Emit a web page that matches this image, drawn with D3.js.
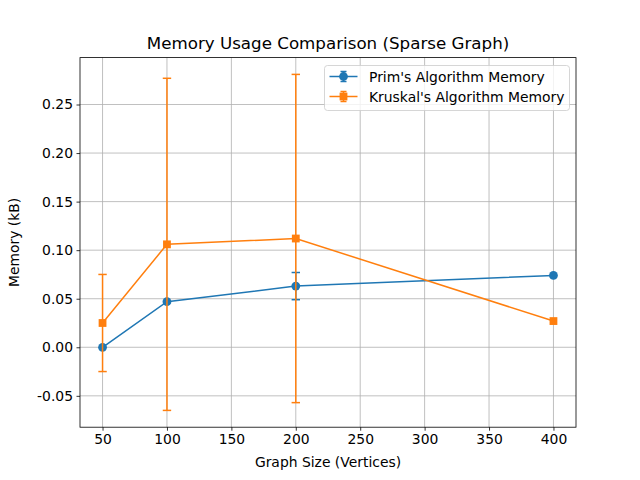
<!DOCTYPE html>
<html>
<head>
<meta charset="utf-8">
<script src="https://cdn.jsdelivr.net/npm/d3@7"></script>
<style>
  body { margin: 0; background: #fff; }
  text { font-family: "DejaVu Sans", sans-serif; fill: #000; }
</style>
</head>
<body>
<div id="vis"></div>
<script>
// data
var sizes = [50, 100, 200, 400];
var primMem = [0.000, 0.047, 0.063, 0.074];
var primErr = [0.000, 0.000, 0.014, 0.000];
var kruskalMem = [0.025, 0.106, 0.112, 0.027];
var kruskalErr = [0.050, 0.171, 0.169, 0.000];
var xTicks = [50, 100, 150, 200, 250, 300, 350, 400];
var yTicks = [-0.05, 0, 0.05, 0.10, 0.15, 0.20, 0.25];

var series = [
  {name: "Prim's Algorithm Memory", y: primMem, err: primErr, color: "#1f77b4", marker: "circle"},
  {name: "Kruskal's Algorithm Memory", y: kruskalMem, err: kruskalErr, color: "#ff7f0e", marker: "square"}
];

var W = 640, H = 480;
var margin = {top: 57.6, right: 64, bottom: 52.8, left: 80};
var width = W - margin.left - margin.right;
var height = H - margin.top - margin.bottom;

var svg = d3.select("#vis").append("svg")
  .attr("width", W).attr("height", H);

var g = svg.append("g")
  .attr("transform", "translate(" + margin.left + "," + margin.top + ")");

/* domain with matplotlib-like 5% padding */
var xPad = (400 - 50) * 0.05;
var x = d3.scaleLinear().domain([50 - xPad, 400 + xPad]).range([0, width]);

var yMin = d3.min(series, function(s) { return d3.min(s.y, function(v, i) { return v - s.err[i]; }); });
var yMax = d3.max(series, function(s) { return d3.max(s.y, function(v, i) { return v + s.err[i]; }); });
var yPad = (yMax - yMin) * 0.05;
var y = d3.scaleLinear().domain([yMin - yPad, yMax + yPad]).range([height, 0]);

/* grid */
g.append("g").selectAll("line").data(xTicks).enter().append("line")
  .attr("x1", function(d) { return x(d); }).attr("x2", function(d) { return x(d); })
  .attr("y1", 0).attr("y2", height)
  .attr("stroke", "#b0b0b0").attr("stroke-width", 0.8);
g.append("g").selectAll("line").data(yTicks).enter().append("line")
  .attr("y1", function(d) { return y(d); }).attr("y2", function(d) { return y(d); })
  .attr("x1", 0).attr("x2", width)
  .attr("stroke", "#b0b0b0").attr("stroke-width", 0.8);

/* axes */
var xAxis = d3.axisBottom(x).tickValues(xTicks).tickSize(3.5).tickPadding(3.5);
var yAxis = d3.axisLeft(y).tickValues(yTicks).tickSize(3.5).tickPadding(3.5)
  .tickFormat(function(d) { return d.toFixed(2); });

var gx = g.append("g").attr("transform", "translate(0," + height + ")").call(xAxis);
var gy = g.append("g").call(yAxis);
[gx, gy].forEach(function(a) {
  a.select(".domain").remove();
  a.selectAll("line").attr("stroke", "#000").attr("stroke-width", 0.8);
  a.selectAll("text").style("font-size", "13.9px").style("font-family", "DejaVu Sans");
});

/* series */
series.forEach(function(s) {
  var pts = sizes.map(function(v, i) { return {x: v, y: s.y[i], e: s.err[i]}; });
  var sg = g.append("g");

  var line = d3.line().x(function(d) { return x(d.x); }).y(function(d) { return y(d.y); });
  sg.append("path").datum(pts).attr("d", line)
    .attr("fill", "none").attr("stroke", s.color).attr("stroke-width", 1.5);

  var eb = sg.selectAll(".err").data(pts.filter(function(d) { return d.e > 0; })).enter().append("g");
  eb.append("line")
    .attr("x1", function(d) { return x(d.x); }).attr("x2", function(d) { return x(d.x); })
    .attr("y1", function(d) { return y(d.y - d.e); }).attr("y2", function(d) { return y(d.y + d.e); })
    .attr("stroke", s.color).attr("stroke-width", 1.5);
  [-1, 1].forEach(function(sign) {
    eb.append("line")
      .attr("x1", function(d) { return x(d.x) - 4.2; }).attr("x2", function(d) { return x(d.x) + 4.2; })
      .attr("y1", function(d) { return y(d.y + sign * d.e); }).attr("y2", function(d) { return y(d.y + sign * d.e); })
      .attr("stroke", s.color).attr("stroke-width", 1.5);
  });

  if (s.marker === "circle") {
    sg.selectAll("circle").data(pts).enter().append("circle")
      .attr("cx", function(d) { return x(d.x); }).attr("cy", function(d) { return y(d.y); })
      .attr("r", 4.4).attr("fill", s.color);
  } else {
    sg.selectAll("rect").data(pts).enter().append("rect")
      .attr("x", function(d) { return x(d.x) - 3.9; }).attr("y", function(d) { return y(d.y) - 3.9; })
      .attr("width", 7.8).attr("height", 7.8).attr("fill", s.color);
  }
});

/* frame */
g.append("rect").attr("width", width).attr("height", height)
  .attr("fill", "none").attr("stroke", "#000").attr("stroke-width", 0.8);

/* title and labels */
svg.append("text").attr("x", margin.left + width / 2).attr("y", 48.5)
  .attr("text-anchor", "middle").style("font-size", "16.7px")
  .text("Memory Usage Comparison (Sparse Graph)");
svg.append("text").attr("x", margin.left + width / 2).attr("y", 467)
  .attr("text-anchor", "middle").style("font-size", "13.9px")
  .text("Graph Size (Vertices)");
svg.append("text").attr("transform", "translate(18.5," + (margin.top + height / 2) + ") rotate(-90)")
  .attr("text-anchor", "middle").style("font-size", "13.9px")
  .text("Memory (kB)");

/* legend */
var lg = svg.append("g").attr("transform", "translate(324.5,65.5)");
lg.append("rect").attr("width", 245).attr("height", 45).attr("rx", 3)
  .attr("fill", "#fff").attr("fill-opacity", 0.8).attr("stroke", "#ccc").attr("stroke-width", 0.8);
series.forEach(function(s, i) {
  var cy = 11 + i * 20;
  var item = lg.append("g").attr("transform", "translate(0," + cy + ")");
  item.append("line").attr("x1", 5).attr("x2", 33).attr("stroke", s.color).attr("stroke-width", 1.5);
  item.append("line").attr("x1", 19).attr("x2", 19).attr("y1", -5).attr("y2", 5).attr("stroke", s.color).attr("stroke-width", 1.5);
  [-5, 5].forEach(function(yy) {
    item.append("line").attr("x1", 16).attr("x2", 22).attr("y1", yy).attr("y2", yy).attr("stroke", s.color).attr("stroke-width", 1.5);
  });
  if (s.marker === "circle") item.append("circle").attr("cx", 19).attr("r", 4.4).attr("fill", s.color);
  else item.append("rect").attr("x", 15.1).attr("y", -3.9).attr("width", 7.8).attr("height", 7.8).attr("fill", s.color);
  item.append("text").attr("x", 44.5).attr("y", 5).style("font-size", "13.9px").text(s.name);
});
</script>
</body>
</html>
